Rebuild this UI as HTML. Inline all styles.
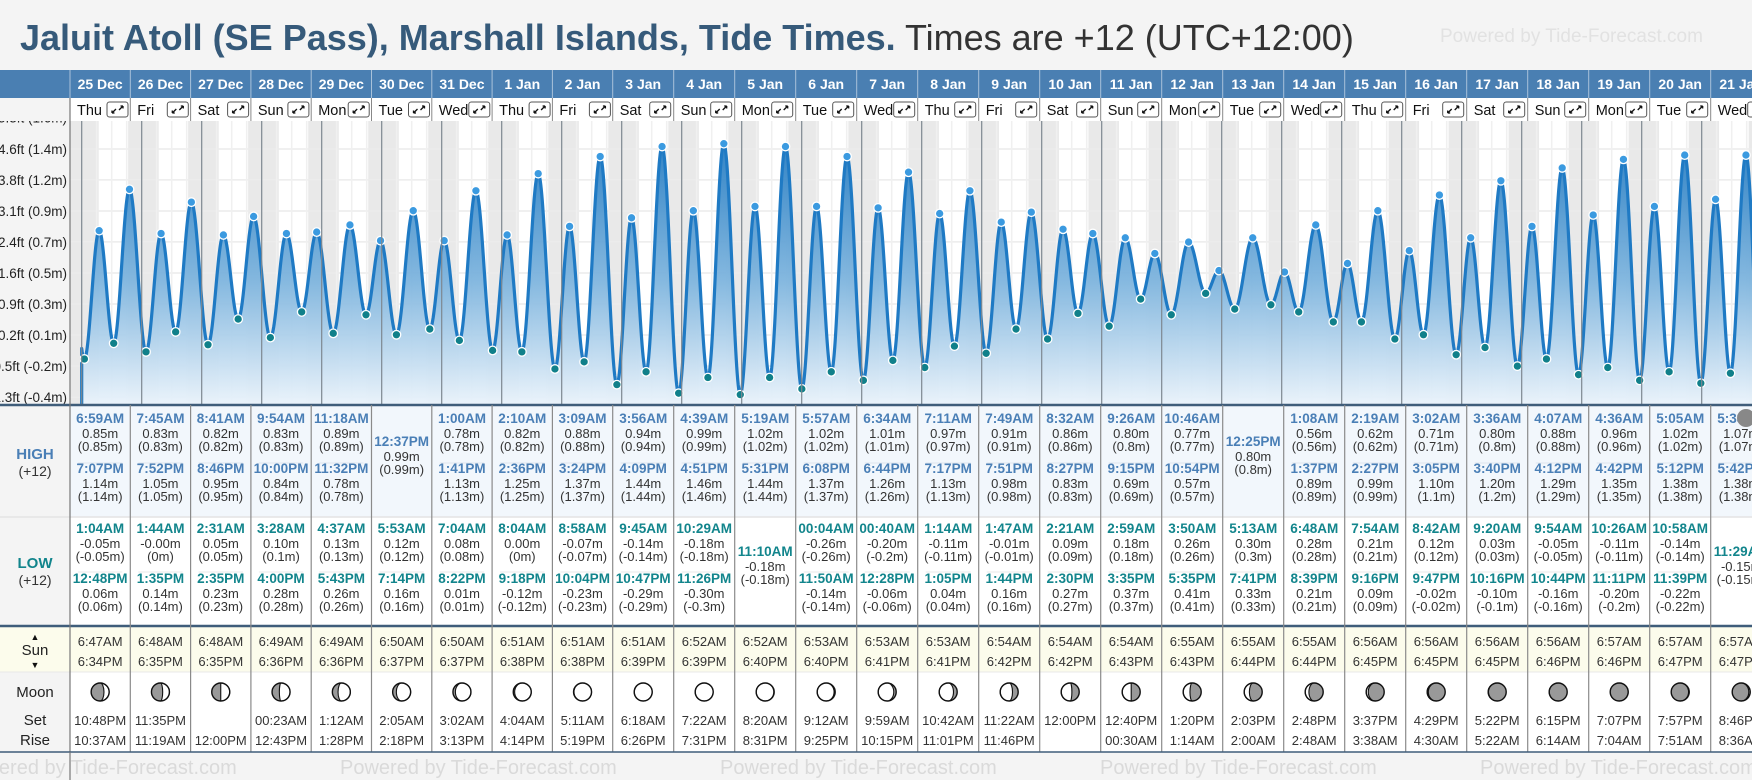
<!DOCTYPE html>
<html><head><meta charset="utf-8">
<style>
html,body{margin:0;padding:0;background:#f4f4f4;}
svg{display:block;font-family:"Liberation Sans",sans-serif;}
</style></head>
<body>
<svg id="root" width="1752" height="780" viewBox="0 0 1752 780" xmlns="http://www.w3.org/2000/svg">
<defs>
<linearGradient id="fillGrad" gradientUnits="userSpaceOnUse" x1="0" y1="130" x2="0" y2="405">
<stop offset="0" stop-color="#1f78c0"/>
<stop offset="0.55" stop-color="#7fb5de"/>
<stop offset="1" stop-color="#eaf3fb"/>
</linearGradient>
<clipPath id="plotClip"><rect x="80" y="121" width="1672" height="284"/></clipPath>
</defs>
<rect x="0" y="0" width="1752" height="780" fill="#f4f4f4"/>
<text x="20" y="50" font-size="36" font-weight="bold" fill="#365a7a">Jaluit Atoll (SE Pass), Marshall Islands, Tide Times.<tspan font-weight="normal" fill="#333"> Times are +12 (UTC+12:00)</tspan></text>
<text x="1440" y="42" font-size="19" fill="#e2e2e2">Powered by Tide-Forecast.com</text>
<g id="layer"></g>
</svg>
<script>
const dates=["25 Dec","26 Dec","27 Dec","28 Dec","29 Dec","30 Dec","31 Dec","1 Jan","2 Jan","3 Jan","4 Jan","5 Jan","6 Jan","7 Jan","8 Jan","9 Jan","10 Jan","11 Jan","12 Jan","13 Jan","14 Jan","15 Jan","16 Jan","17 Jan","18 Jan","19 Jan","20 Jan","21 Jan"];
const weekdays=["Thu","Fri","Sat","Sun","Mon","Tue","Wed","Thu","Fri","Sat","Sun","Mon","Tue","Wed","Thu","Fri","Sat","Sun","Mon","Tue","Wed","Thu","Fri","Sat","Sun","Mon","Tue","Wed"];
const highTimes=[["6:59AM","7:07PM"],["7:45AM","7:52PM"],["8:41AM","8:46PM"],["9:54AM","10:00PM"],["11:18AM","11:32PM"],["12:37PM"],["1:00AM","1:41PM"],["2:10AM","2:36PM"],["3:09AM","3:24PM"],["3:56AM","4:09PM"],["4:39AM","4:51PM"],["5:19AM","5:31PM"],["5:57AM","6:08PM"],["6:34AM","6:44PM"],["7:11AM","7:17PM"],["7:49AM","7:51PM"],["8:32AM","8:27PM"],["9:26AM","9:15PM"],["10:46AM","10:54PM"],["12:25PM"],["1:08AM","1:37PM"],["2:19AM","2:27PM"],["3:02AM","3:05PM"],["3:36AM","3:40PM"],["4:07AM","4:12PM"],["4:36AM","4:42PM"],["5:05AM","5:12PM"],["5:33AM","5:42PM"]];
const highVals=[[0.85,1.14],[0.83,1.05],[0.82,0.95],[0.83,0.84],[0.89,0.78],[0.99],[0.78,1.13],[0.82,1.25],[0.88,1.37],[0.94,1.44],[0.99,1.46],[1.02,1.44],[1.02,1.37],[1.01,1.26],[0.97,1.13],[0.91,0.98],[0.86,0.83],[0.80,0.69],[0.77,0.57],[0.80],[0.56,0.89],[0.62,0.99],[0.71,1.10],[0.80,1.20],[0.88,1.29],[0.96,1.35],[1.02,1.38],[1.07,1.38]];
const lowTimes=[["1:04AM","12:48PM"],["1:44AM","1:35PM"],["2:31AM","2:35PM"],["3:28AM","4:00PM"],["4:37AM","5:43PM"],["5:53AM","7:14PM"],["7:04AM","8:22PM"],["8:04AM","9:18PM"],["8:58AM","10:04PM"],["9:45AM","10:47PM"],["10:29AM","11:26PM"],["11:10AM"],["00:04AM","11:50AM"],["00:40AM","12:28PM"],["1:14AM","1:05PM"],["1:47AM","1:44PM"],["2:21AM","2:30PM"],["2:59AM","3:35PM"],["3:50AM","5:35PM"],["5:13AM","7:41PM"],["6:48AM","8:39PM"],["7:54AM","9:16PM"],["8:42AM","9:47PM"],["9:20AM","10:16PM"],["9:54AM","10:44PM"],["10:26AM","11:11PM"],["10:58AM","11:39PM"],["11:29AM"]];
const lowVals=[[-0.05,0.06],[-0,0.14],[0.05,0.23],[0.10,0.28],[0.13,0.26],[0.12,0.16],[0.08,0.01],[0.00,-0.12],[-0.07,-0.23],[-0.14,-0.29],[-0.18,-0.30],[-0.18],[-0.26,-0.14],[-0.20,-0.06],[-0.11,0.04],[-0.01,0.16],[0.09,0.27],[0.18,0.37],[0.26,0.41],[0.30,0.33],[0.28,0.21],[0.21,0.09],[0.12,-0.02],[0.03,-0.10],[-0.05,-0.16],[-0.11,-0.20],[-0.14,-0.22],[-0.15]];
const sunrise=["6:47AM","6:48AM","6:48AM","6:49AM","6:49AM","6:50AM","6:50AM","6:51AM","6:51AM","6:51AM","6:52AM","6:52AM","6:53AM","6:53AM","6:53AM","6:54AM","6:54AM","6:54AM","6:55AM","6:55AM","6:55AM","6:56AM","6:56AM","6:56AM","6:56AM","6:57AM","6:57AM","6:57AM"];
const sunset=["6:34PM","6:35PM","6:35PM","6:36PM","6:36PM","6:37PM","6:37PM","6:38PM","6:38PM","6:39PM","6:39PM","6:40PM","6:40PM","6:41PM","6:41PM","6:42PM","6:42PM","6:43PM","6:43PM","6:44PM","6:44PM","6:45PM","6:45PM","6:45PM","6:46PM","6:46PM","6:47PM","6:47PM"];
const moonSet=["10:48PM","11:35PM","","00:23AM","1:12AM","2:05AM","3:02AM","4:04AM","5:11AM","6:18AM","7:22AM","8:20AM","9:12AM","9:59AM","10:42AM","11:22AM","12:00PM","12:40PM","1:20PM","2:03PM","2:48PM","3:37PM","4:29PM","5:22PM","6:15PM","7:07PM","7:57PM","8:46PM"];
const moonRise=["10:37AM","11:19AM","12:00PM","12:43PM","1:28PM","2:18PM","3:13PM","4:14PM","5:19PM","6:26PM","7:31PM","8:31PM","9:25PM","10:15PM","11:01PM","11:46PM","","00:30AM","1:14AM","2:00AM","2:48AM","3:38AM","4:30AM","5:22AM","6:14AM","7:04AM","7:51AM","8:36AM"];
const moonPhase=[0.18,0.21,0.25,0.28,0.31,0.35,0.38,0.41,0.45,0.48,0.52,0.55,0.58,0.62,0.65,0.69,0.72,0.75,0.79,0.82,0.85,0.89,0.92,0.96,0.99,0.02,0.06,0.09];
const tickVals=[1.643,1.423,1.206,0.988,0.771,0.553,0.336,0.118,-0.099,-0.317];
const tickLabels=["5.3ft (1.6m)","4.6ft (1.4m)","3.8ft (1.2m)","3.1ft (0.9m)","2.4ft (0.7m)","1.6ft (0.5m)","0.9ft (0.3m)","0.2ft (0.1m)","-0.5ft (-0.2m)","-1.3ft (-0.4m)"];

const NS="http://www.w3.org/2000/svg";
const layer=document.getElementById('layer');
const dayW=60, plotX0=81.7;
function xT(h){return plotX0+h/24*dayW;}
function yM(m){return 189.3+(1.14-m)*142.6;}
function hrs(s){const m=s.match(/(\d+):(\d+)(AM|PM)/);let h=+m[1]%12;if(m[3]==="PM")h+=12;return h+ +m[2]/60;}
function mk(tag,attrs,parent){const e=document.createElementNS(NS,tag);for(const k in attrs)e.setAttribute(k,attrs[k]);(parent||layer).appendChild(e);return e;}
function txt(x,y,s,size,fill,weight,anchor,parent){const e=mk('text',{x:x,y:y,'font-size':size,fill:fill,'font-weight':weight||'normal','text-anchor':anchor||'middle'},parent);e.textContent=s;return e;}
function colX(i){return i<=9?70+60.3*i:612.7+61*(i-9);}
function colW(i){return colX(i+1)-colX(i);}
const N=dates.length;

let e=mk('rect',{x:70,y:121,width:1682,height:284,fill:'#fff'});


for(let i=-1;i<N;i++){
  const j=Math.max(i,0);
  const sr=hrs(sunrise[j]), ss=hrs(sunset[j]);
  const x0=Math.max(70,xT(i*24));
  e=mk('rect',{x:x0,y:121,width:Math.max(0,xT(i*24+sr)-x0),height:284,fill:'#e9e9e9'});
  
  
  e=mk('rect',{x:xT(i*24+ss),y:121,width:xT((i+1)*24)-xT(i*24+ss),height:284,fill:'#e9e9e9'});
  
  
}
for(let k=0;k<tickVals.length;k++){
  e=mk('line',{x1:70,x2:1752,y1:yM(tickVals[k]),y2:yM(tickVals[k]),stroke:'#ececec','stroke-width':1.5});
  
  
}
for(let h=6;h<N*24+24;h+=6){
  if(h%24===0)continue;
  e=mk('line',{x1:xT(h),x2:xT(h),y1:121,y2:405,stroke:'#f0f0f0','stroke-width':1.5});
  
  
}
const ext=[];
ext.push([-5.6,1.14,'H']);
for(let i=0;i<N;i++){
  highTimes[i].forEach((t,k)=>ext.push([i*24+hrs(t),highVals[i][k],'H']));
  lowTimes[i].forEach((t,k)=>ext.push([i*24+hrs(t),lowVals[i][k],'L']));
}
ext.push([N*24-0.2,-0.24,'L']);
ext.push([N*24+6,1.1,'H']);
ext.sort((a,b)=>a[0]-b[0]);
function hAt(t){for(let k=0;k<ext.length-1;k++){if(t>=ext[k][0]&&t<=ext[k+1][0]){const f=(t-ext[k][0])/(ext[k+1][0]-ext[k][0]);return ext[k][1]+(ext[k+1][1]-ext[k][1])*(1-Math.cos(Math.PI*f))/2;}}return ext[ext.length-1][1];}
let pts=[];
const tEnd=(1756-plotX0)/dayW*24;
for(let t=0;t<=tEnd;t+=0.2)pts.push([xT(t),yM(hAt(t))]);
let d='M'+pts.map(p=>p[0].toFixed(1)+','+p[1].toFixed(1)).join(' L');
const g=mk('g',{'clip-path':'url(#plotClip)'});
e=mk('path',{d:d+' L'+pts[pts.length-1][0].toFixed(1)+',405 L'+xT(0)+',405 Z',fill:'url(#fillGrad)',opacity:0.95},g);


for(let i=0;i<=N;i++){
  e=mk('line',{x1:xT(i*24),x2:xT(i*24),y1:121,y2:405,stroke:'#7d8790','stroke-width':1.2});
  
  
}
e=mk('path',{d:'M'+xT(0)+',405 L'+d.slice(1),fill:'none',stroke:'#1f7ac4','stroke-width':3.2,'stroke-linejoin':'round'},g);


ext.forEach(p=>{
  const x=xT(p[0]);if(x<80||x>1752)return;
  const c=mk('circle',{cx:x,cy:yM(p[1]),r:4.3,fill:p[2]==='H'?'#3b9ae0':'#10808a',stroke:'#fff','stroke-width':1.3},g);
  
  
});
e=mk('rect',{x:0,y:98,width:70,height:307,fill:'#f4f4f4'});


for(let k=0;k<tickVals.length;k++){
  const t=txt(67,yM(tickVals[k])+5,tickLabels[k],13.5,'#222','normal','end');
  
  
}
e=mk('rect',{x:0,y:70,width:1752,height:28,fill:'#4a7fb2'});


e=mk('rect',{x:70,y:98,width:1682,height:23,fill:'#fff'});


e=mk('rect',{x:0,y:98,width:70,height:23,fill:'#f4f4f4'});
for(let i=0;i<N;i++){
  const x=colX(i), w=colW(i);
  e=mk('line',{x1:x,x2:x,y1:70,y2:98,stroke:'#a9c2da','stroke-width':1});
  
  
  e=mk('line',{x1:x,x2:x,y1:98,y2:121,stroke:'#888','stroke-width':1});
  const dt=txt(x+w/2,89,dates[i],14,'#fff','bold');
  
  
  const wd=txt(x+7,115,weekdays[i],14.5,'#111','normal','start');
  
  
  const bx=mk('rect',{x:x+37,y:102,width:21,height:15,rx:2.5,fill:'#fff',stroke:'#555','stroke-width':1});
  
  
  e=mk('path',{d:`M${x+42} ${113} L${x+46} ${109} M${x+42} ${113} v-2.5 M${x+42} ${113} h2.5 M${x+53} ${106} L${x+49} ${110} M${x+53} ${106} v2.5 M${x+53} ${106} h-2.5`,stroke:'#111','stroke-width':1.3,fill:'none'});
}
e=mk('rect',{x:0,y:405,width:1752,height:112,fill:'#f2f7fc'});


e=mk('rect',{x:0,y:517,width:1752,height:109,fill:'#fff'});


e=mk('rect',{x:0,y:626,width:1752,height:46,fill:'#fcfcec'});


e=mk('rect',{x:0,y:672,width:1752,height:80,fill:'#fff'});


mk('rect',{x:0,y:405,width:70,height:221,fill:'#f4f4f4'});
mk('rect',{x:0,y:672,width:70,height:80,fill:'#f4f4f4'});
mk('line',{x1:0,x2:1752,y1:517,y2:517,stroke:'#e4e4e4','stroke-width':1.5});
mk('line',{x1:0,x2:1752,y1:672,y2:672,stroke:'#e8e8e8','stroke-width':1});
mk('line',{x1:0,x2:1752,y1:405,y2:405,stroke:'#3f5d7a','stroke-width':2.5});
mk('line',{x1:0,x2:1752,y1:626,y2:626,stroke:'#3f5d7a','stroke-width':2.5});
mk('line',{x1:70,x2:70,y1:98,y2:780,stroke:'#777','stroke-width':1.2});
[[454,'HIGH','#4a7fb6'],[563,'LOW','#12858c']].forEach(a=>{
  const t=txt(35,a[0]+5,a[1],15,a[2],'bold');
  
  
  const p=txt(35,a[0]+22,'(+12)',14,'#333');
  
  
});
e=txt(35,640,'▲',9,'#111');
e=txt(35,655,'Sun',15,'#222');


e=txt(35,668,'▼',9,'#111');
e=txt(35,697,'Moon',15,'#222');


e=txt(35,725,'Set',15,'#222');


e=txt(35,745,'Rise',15,'#222');


function fmt(v){return (Object.is(v,-0)?'-0.00':v.toFixed(2))+'m';}
function pfmt(v){return '('+String(+v.toFixed(2))+'m)';}
function entry(cx,y0,time,v,col,name){
  const a=txt(cx,y0+5,time,13.5,col,'bold');
  
  
  const b=txt(cx,y0+20,fmt(v),13,'#333');
  
  
  const c=txt(cx,y0+33,pfmt(v),13,'#333');
}
for(let i=0;i<N;i++){
  const x=colX(i), w=colW(i), cx=x+w/2;
  if(i>0){e=mk('line',{x1:x,x2:x,y1:405,y2:752,stroke:'#8a8a8a','stroke-width':1.2});
    
    }
  const H=highTimes[i];
  if(H.length===2){entry(cx,418,H[0],highVals[i][0],'#4a7fb6','high-tide');entry(cx,468,H[1],highVals[i][1],'#4a7fb6','high-tide');
    mk('line',{x1:x+8,x2:x+w-8,y1:463,y2:463,stroke:'#dde5ee'});}
  else entry(cx,441,H[0],highVals[i][0],'#4a7fb6','high-tide');
  const L=lowTimes[i];
  if(L.length===2){entry(cx,528,L[0],lowVals[i][0],'#12858c','low-tide');entry(cx,578,L[1],lowVals[i][1],'#12858c','low-tide');
    mk('line',{x1:x+8,x2:x+w-8,y1:572,y2:572,stroke:'#e8e8e8'});}
  else entry(cx,551,L[0],lowVals[i][0],'#12858c','low-tide');
  e=txt(cx,646,sunrise[i],13,'#333');
  
  
  e=txt(cx,666,sunset[i],13,'#333');
  
  
  e=txt(cx,725,moonSet[i],13,'#333');
  
  
  e=txt(cx,745,moonRise[i],13,'#333');
  
  
  const r=9, my=692, p=moonPhase[i], k=Math.cos(2*Math.PI*p), rx=Math.abs(k)*r;
  const mg=mk('g',{transform:`translate(${cx},${my})`});
  
  
  mk('circle',{cx:0,cy:0,r:r,fill:'#999'},mg);
  let md;
  if(p<0.5) md=`M0,${-r} A${r},${r} 0 0 1 0,${r} A${rx},${r} 0 0 ${k>0?0:1} 0,${-r} Z`;
  else md=`M0,${-r} A${r},${r} 0 0 0 0,${r} A${rx},${r} 0 0 ${k>0?1:0} 0,${-r} Z`;
  mk('path',{d:md,fill:'#fff',stroke:'#111','stroke-width':1.1},mg);
  mk('circle',{cx:0,cy:0,r:r,fill:'none',stroke:'#111','stroke-width':1.4},mg);
}
e=mk('rect',{x:0,y:753,width:1752,height:27,fill:'#f4f4f4'});


mk('line',{x1:0,x2:1752,y1:752,y2:752,stroke:'#3f5d7a','stroke-width':1.5});
mk('line',{x1:70,x2:70,y1:752,y2:780,stroke:'#777','stroke-width':1.2});
for(let x=-40;x<1752;x+=380){
  e=txt(x,774,'Powered by Tide-Forecast.com',20,'#dadada','normal','start');
  
  
}
e=mk('circle',{cx:1746,cy:418,r:9,fill:'#888'});


</script>
</body></html>
